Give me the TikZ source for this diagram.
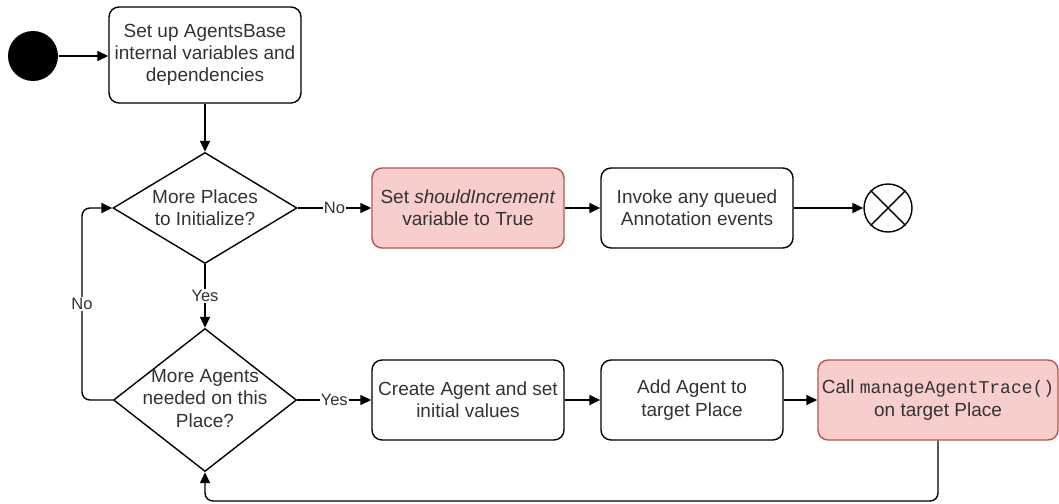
\documentclass[tikz,border=0pt]{standalone}
\usepackage{fontspec}
\setmainfont{Liberation Sans}
\newfontfamily\codefont{Liberation Mono}
\usetikzlibrary{shapes.geometric,arrows.meta}
\definecolor{redfill}{HTML}{F8CECC}
\definecolor{redline}{HTML}{B85450}
\definecolor{ink}{HTML}{333333}

\begin{document}
\begin{tikzpicture}[x=1pt,y=-1pt, line width=1.4pt,
  every node/.style={font=\fontsize{19}{22.3}\selectfont, text=ink, align=center},
  proc/.style={draw=black, rounded corners=10pt, fill=white, minimum width=192pt, minimum height=80pt, inner sep=0pt},
  hot/.style={proc, draw=redline, fill=redfill},
  decision/.style={draw=black, diamond, inner sep=0pt, fill=white},
  flow/.style={-{Triangle[length=11pt,width=10pt]}, line width=1.4pt, draw=black},
  lbl/.style={fill=white, inner sep=1pt, font=\fontsize{16.5}{20}\selectfont}
]
\useasboundingbox (0,0) rectangle (1059,503);

% start and end markers
\node[circle, fill=black, minimum size=50pt, inner sep=0pt] (init) at (33,56) {};
\node[circle, draw=black, fill=white, minimum size=48pt, inner sep=0pt] (stop) at (888,208) {};
\draw (stop.north west) -- (stop.south east);
\draw (stop.north east) -- (stop.south west);

% actions
\node[proc, minimum height=96pt] (setup) at (205,55) {Set up AgentsBase\\internal variables and\\dependencies};
\node[hot] (flag) at (468,208) {Set \textit{shouldIncrement}\\variable to True};
\node[proc] (invoke) at (697,208) {Invoke any queued\\Annotation events};
\node[proc] (create) at (468,400) {Create Agent and set\\initial values};
\node[proc, minimum width=182pt] (add) at (692,400) {Add Agent to\\target Place};
\node[hot, minimum width=240pt] (call) at (938,400) {Call {\codefont\fontsize{18}{22.3}\selectfont manageAgentTrace()}\\on target Place};

% decisions
\node[decision, minimum width=184pt, minimum height=111pt] (d1) at (205,208) {};
\node (d1txt) at (d1) {More Places\\to Initialize?};
\node[decision, minimum width=183pt, minimum height=143pt] (d2) at (205,400) {};
\node (d2txt) at ([yshift=1.5pt]d2) {More Agents\\needed on this\\Place?};

% connectors
\coordinate (lft) at (82,0);
\coordinate (bot) at (0,501);
\draw[flow] (init.east) -- (init.east -| setup.west);
\draw[flow] (setup.south) -- (d1.north);
\draw[flow] (d1.east) -- node[lbl]{No} (flag.west);
\draw[flow] (flag.east) -- (invoke.west);
\draw[flow] (invoke.east) -- (stop.west);
\draw[flow] (d1.south) -- node[lbl]{Yes} (d2.north);
\draw[flow] (d2.east) -- node[lbl]{Yes} (create.west);
\draw[flow] (create.east) -- (add.west);
\draw[flow] (add.east) -- (call.west);
\draw[flow, rounded corners=8pt] (call.south) -- (call.south |- bot) -| (d2.south);
\draw[flow, rounded corners=8pt] (d2.west) -- (d2.west -| lft) -- node[lbl]{No} (d1.west -| lft) -- (d1.west);
\end{tikzpicture}
\end{document}
